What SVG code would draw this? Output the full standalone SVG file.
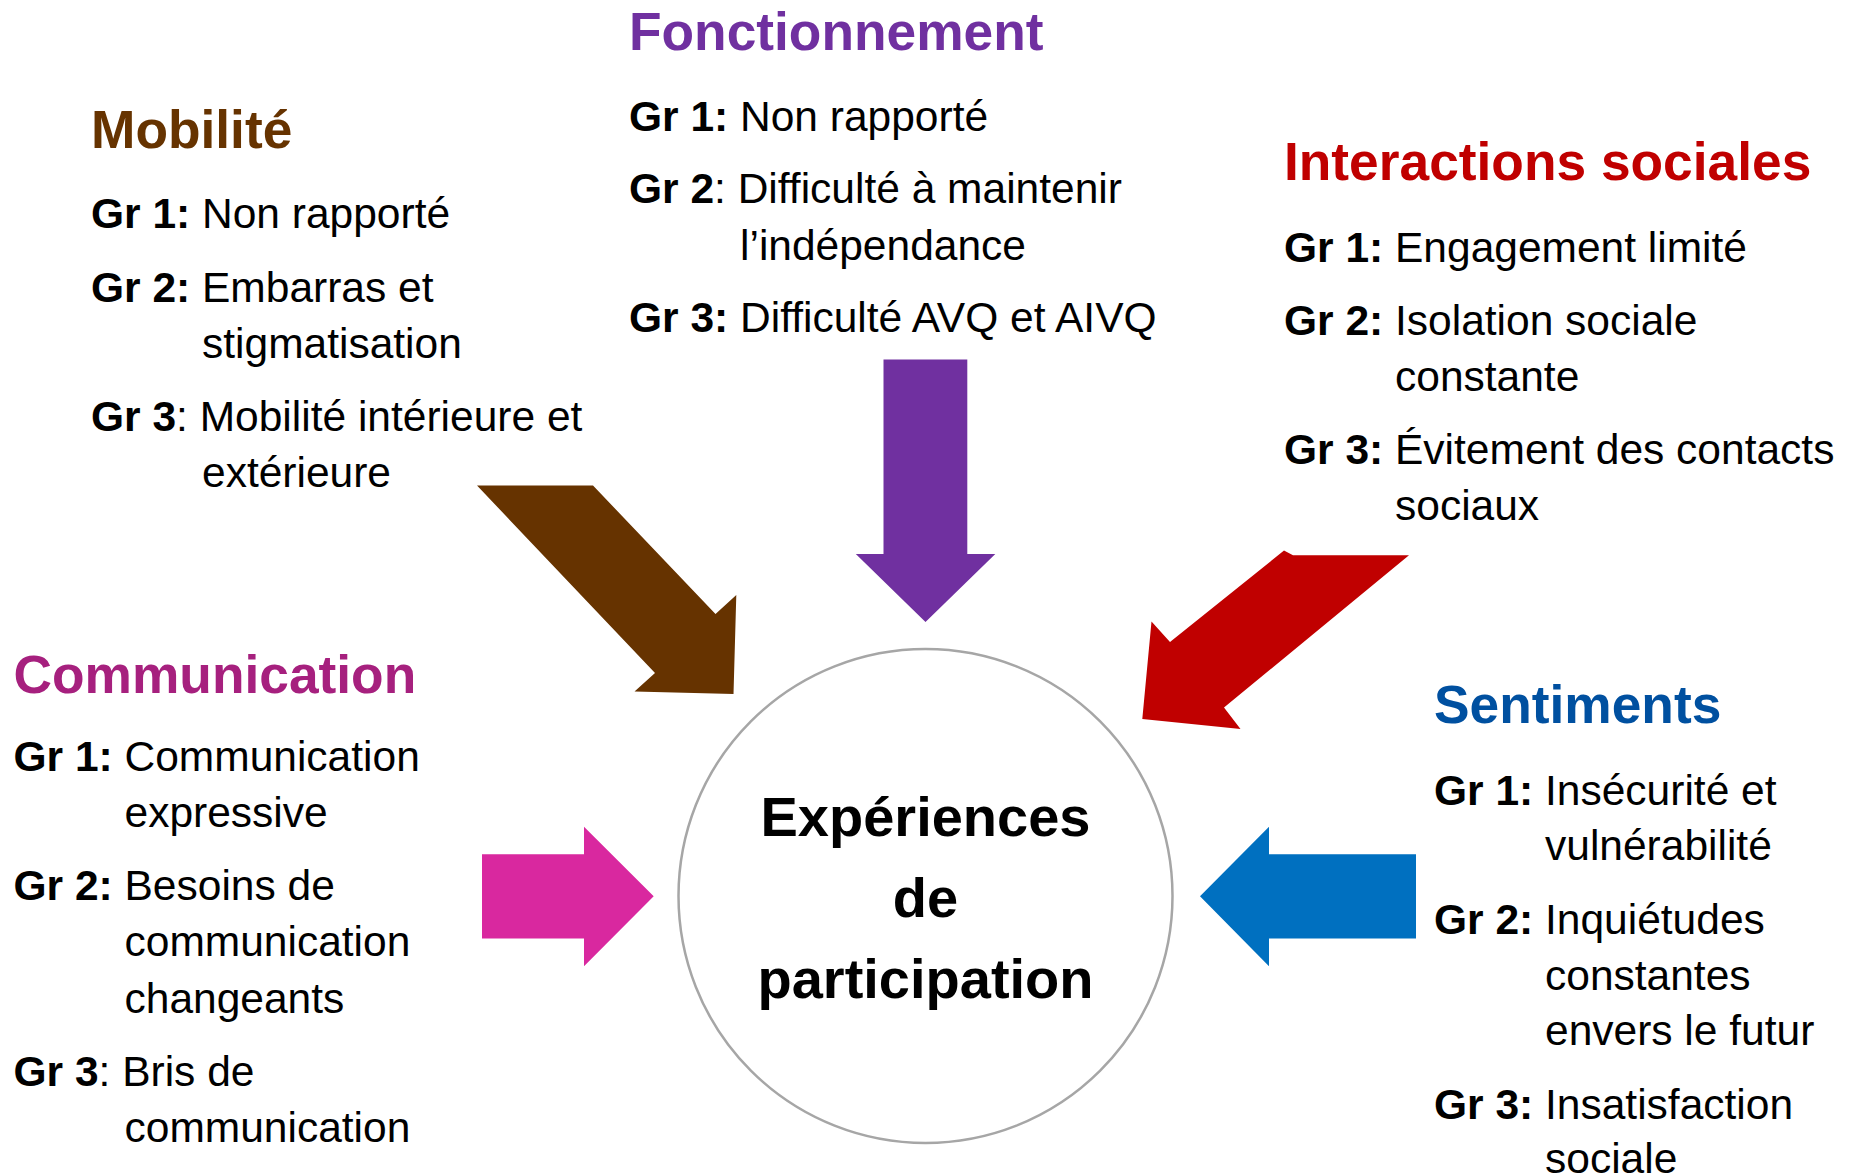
<svg xmlns="http://www.w3.org/2000/svg" width="1849" height="1174" viewBox="0 0 1849 1174">
<style>
text{font-family:"Liberation Sans",Arial,sans-serif;fill:#000}
.t{font-size:53.3px;font-weight:bold}
.i{font-size:42.5px}
.b{font-weight:bold}
.c{font-size:56px;font-weight:bold;text-anchor:middle}
</style>
<rect width="1849" height="1174" fill="#fff"/>
<g id="connectors">
<polygon id="arrow-mobilite" fill="#663300" points="477,485.5 593,485.5 715.5,614 736.3,595 733.5,694 634.5,691.5 655,673"/>
<polygon id="arrow-fonctionnement" fill="#7030A0" points="883.5,359.5 967.3,359.5 967.3,554 995.3,554 925.5,622 855.8,554 883.5,554"/>
<polygon id="arrow-interactions" fill="#C00000" points="1284,550.5 1293,555.3 1409,555.3 1224,707.5 1240.5,729 1142.3,719 1151.5,621.4 1170,642"/>
<polygon id="arrow-communication" fill="#D9289F" points="482,854.3 584,854.3 584,826.8 653.7,896.3 584,966.3 584,938.5 482,938.5"/>
<polygon id="arrow-sentiments" fill="#0070C0" points="1416,854.3 1269,854.3 1269,826.8 1200,896.3 1269,966.3 1269,938.5 1416,938.5"/>
</g>
<g id="node-center">
<circle cx="925.5" cy="896" r="247" fill="#fff" stroke="#A6A6A6" stroke-width="2.5"/>
<text class="c" x="925.5" y="836">Expériences</text>
<text class="c" x="925.5" y="917">de</text>
<text class="c" x="925.5" y="998">participation</text>
</g>
<g id="node-mobilite">
<text class="t" x="91" y="147.5" style="fill:#663300">Mobilité</text>
<text class="i" x="91" y="228"><tspan class="b">Gr 1:</tspan> Non rapporté</text>
<text class="i" x="91" y="302"><tspan class="b">Gr 2:</tspan> Embarras et</text>
<text class="i" x="202" y="358">stigmatisation</text>
<text class="i" x="91" y="431"><tspan class="b">Gr 3</tspan>: Mobilité intérieure et</text>
<text class="i" x="202" y="487">extérieure</text>
</g>
<g id="node-fonctionnement">
<text class="t" x="629" y="49.5" style="fill:#7030A0">Fonctionnement</text>
<text class="i" x="629" y="131"><tspan class="b">Gr 1:</tspan> Non rapporté</text>
<text class="i" x="629" y="203"><tspan class="b">Gr 2</tspan>: Difficulté à maintenir</text>
<text class="i" x="740" y="260">l’indépendance</text>
<text class="i" x="629" y="332"><tspan class="b">Gr 3:</tspan> Difficulté AVQ et AIVQ</text>
</g>
<g id="node-interactions">
<text class="t" x="1284" y="180" style="fill:#C00000">Interactions sociales</text>
<text class="i" x="1284" y="262"><tspan class="b">Gr 1:</tspan> Engagement limité</text>
<text class="i" x="1284" y="335"><tspan class="b">Gr 2:</tspan> Isolation sociale</text>
<text class="i" x="1395" y="391">constante</text>
<text class="i" x="1284" y="464"><tspan class="b">Gr 3:</tspan> Évitement des contacts</text>
<text class="i" x="1395" y="520">sociaux</text>
</g>
<g id="node-communication">
<text class="t" x="13.5" y="692.5" style="fill:#A6207E">Communication</text>
<text class="i" x="13.5" y="771"><tspan class="b">Gr 1:</tspan> Communication</text>
<text class="i" x="124.5" y="827">expressive</text>
<text class="i" x="13.5" y="900"><tspan class="b">Gr 2:</tspan> Besoins de</text>
<text class="i" x="124.5" y="956">communication</text>
<text class="i" x="124.5" y="1013">changeants</text>
<text class="i" x="13.5" y="1086"><tspan class="b">Gr 3</tspan>: Bris de</text>
<text class="i" x="124.5" y="1142">communication</text>
</g>
<g id="node-sentiments">
<text class="t" x="1434" y="723" style="fill:#0050A0">Sentiments</text>
<text class="i" x="1434" y="805"><tspan class="b">Gr 1:</tspan> Insécurité et</text>
<text class="i" x="1545" y="860">vulnérabilité</text>
<text class="i" x="1434" y="934"><tspan class="b">Gr 2:</tspan> Inquiétudes</text>
<text class="i" x="1545" y="990">constantes</text>
<text class="i" x="1545" y="1045">envers le futur</text>
<text class="i" x="1434" y="1119"><tspan class="b">Gr 3:</tspan> Insatisfaction</text>
<text class="i" x="1545" y="1173">sociale</text>
</g>
</svg>
